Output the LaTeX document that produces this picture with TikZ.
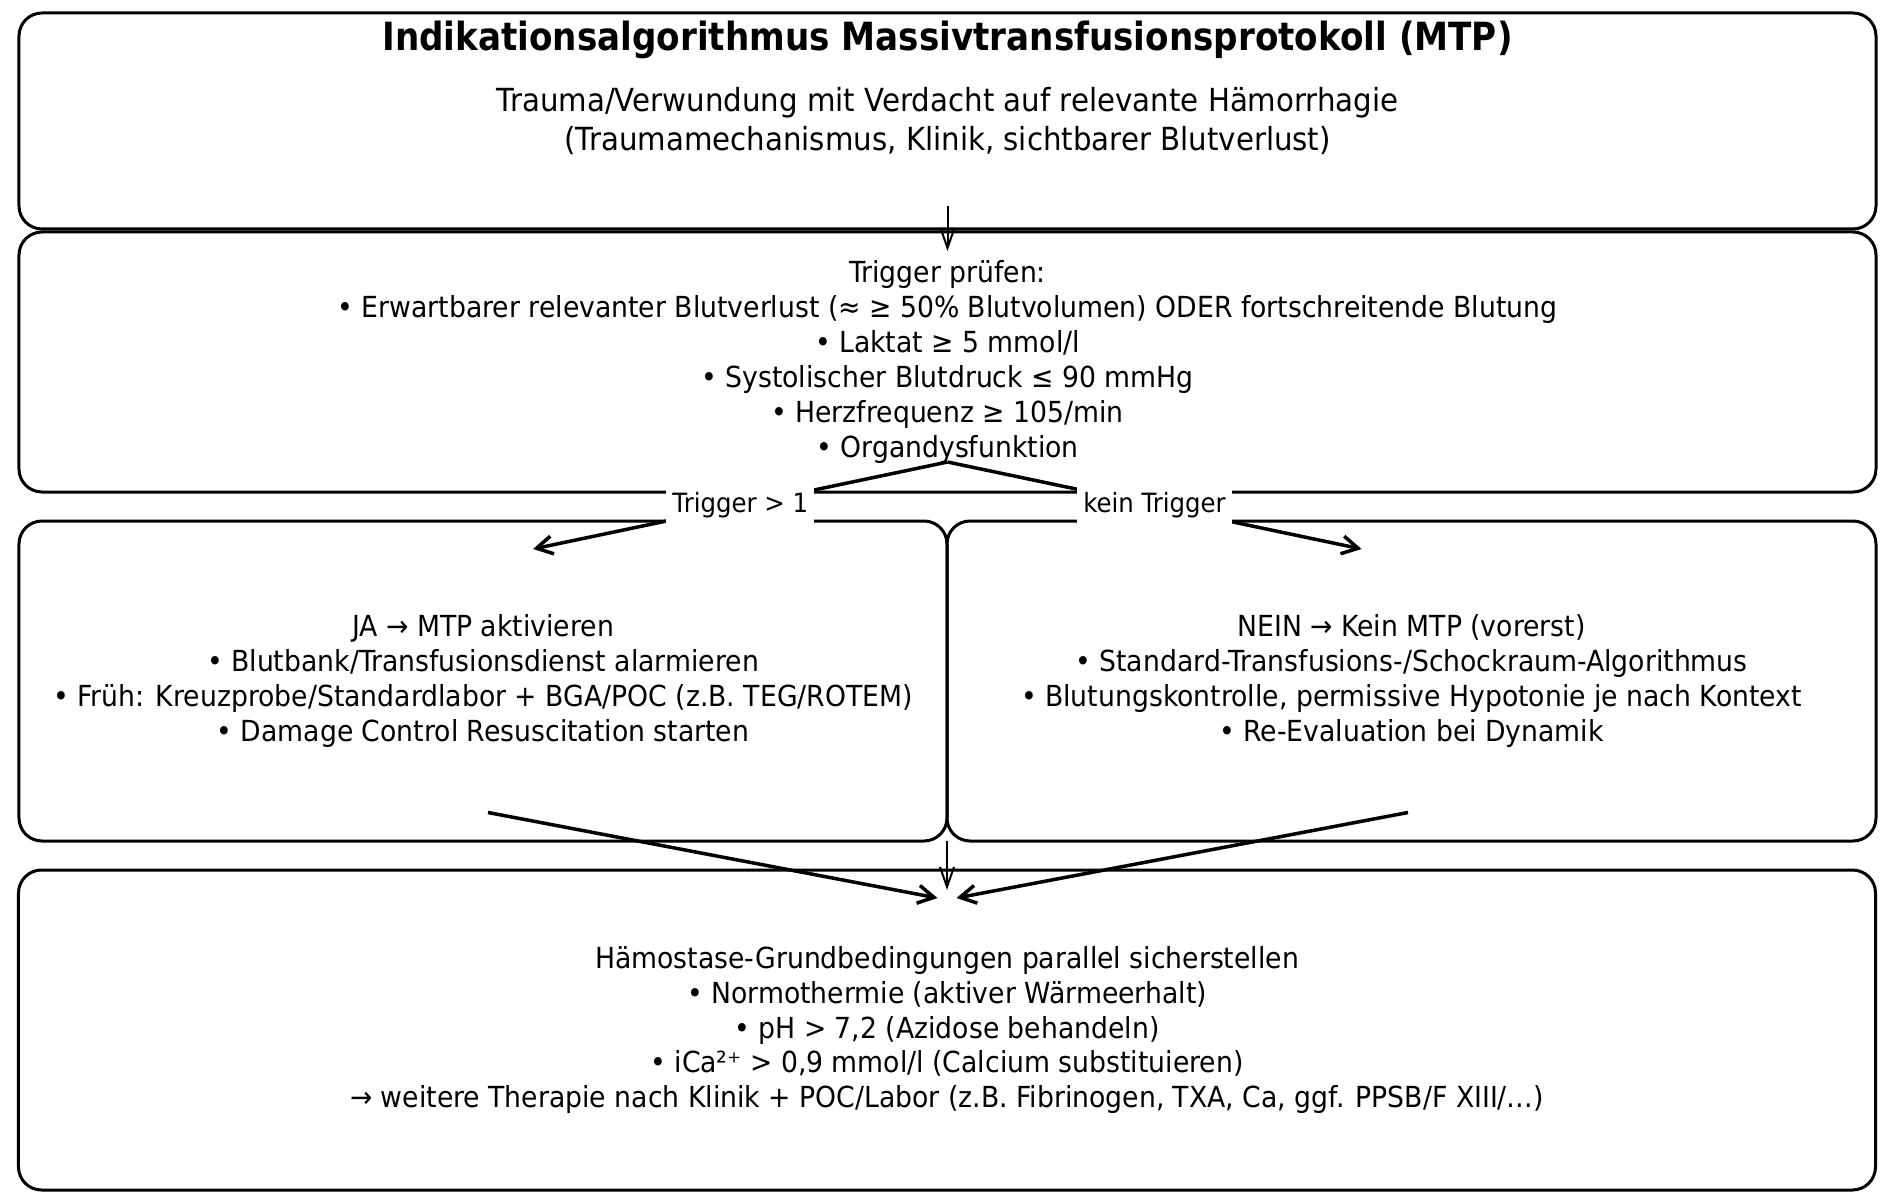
\documentclass[tikz,border=0pt]{standalone}
\usepackage{fontspec}
\setmainfont{DejaVu Sans}[FakeStretch=0.92]
\newfontfamily\headfont{DejaVu Sans}[FakeStretch=0.88]
\usepackage{tikz}
\usetikzlibrary{arrows.meta, positioning}
\newcommand{\mtpbody}{\fontsize{16.5}{19.9}\selectfont}

\begin{document}
\begin{tikzpicture}
    % Define styles
    \tikzstyle{block} = [rectangle, draw, rounded corners=0.46cm,
                          line width=0.06cm, align=center,
                          outer sep=0pt, inner sep=0pt, font=\mtpbody]
    \tikzstyle{arrow} = [line width=0.07cm, -{Straight Barb[length=0.32cm, width=0.36cm]}]
    \tikzstyle{thinarrow} = [line width=0.04cm, -{Straight Barb[length=0.4cm, width=0.28cm]}]
    \tikzstyle{branchlabel} = [fill=white, inner xsep=0.12cm, minimum height=0.76cm,
                               font=\fontsize{15.1}{18}\selectfont]
    \tikzstyle{headline} = [font=\headfont\fontsize{22.1}{26}\selectfont\bfseries]

    \useasboundingbox (0,0) rectangle (37.8,-24.02);

    % Create blocks
    \node[block, minimum width=37.14cm, minimum height=4.32cm,
          font=\fontsize{18.1}{21.9}\selectfont] (trauma) at (18.95,-2.42)
        {Trauma/Verwundung mit Verdacht auf relevante Hämorrhagie\\(Traumamechanismus, Klinik, sichtbarer Blutverlust)};
    \node[headline, anchor=base] (title) at ([yshift=-0.76cm]trauma.north)
        {Indikationsalgorithmus Massivtransfusionsprotokoll (MTP)};
    \node[block, minimum width=37.14cm, minimum height=5.2cm, below=0.06cm of trauma] (trigger)
        {Trigger prüfen:\\• Erwartbarer relevanter Blutverlust (≈ ≥ 50\% Blutvolumen) ODER fortschreitende Blutung\\• Laktat ≥ 5 mmol/l\\• Systolischer Blutdruck ≤ 90 mmHg\\• Herzfrequenz ≥ 105/min\\• Organdysfunktion};
    \node[block, minimum width=18.56cm, minimum height=6.4cm,
          below=0.58cm of trigger.south west, anchor=north west] (ja)
        {JA → MTP aktivieren\\• Blutbank/Transfusionsdienst alarmieren\\• Früh: Kreuzprobe/Standardlabor + BGA/POC (z.B. TEG/ROTEM)\\• Damage Control Resuscitation starten};
    \node[block, minimum width=18.58cm, minimum height=6.4cm, right=0cm of ja] (nein)
        {NEIN → Kein MTP (vorerst)\\• Standard-Transfusions-/Schockraum-Algorithmus\\• Blutungskontrolle, permissive Hypotonie je nach Kontext\\• Re-Evaluation bei Dynamik};
    \node[block, minimum width=37.14cm, minimum height=6.4cm, below=0.58cm of ja.south east] (haemo)
        {Hämostase-Grundbedingungen parallel sicherstellen\\• Normothermie (aktiver Wärmeerhalt)\\• pH > 7,2 (Azidose behandeln)\\• iCa²⁺ > 0,9 mmol/l (Calcium substituieren)\\→ weitere Therapie nach Klinik + POC/Labor (z.B. Fibrinogen, TXA, Ca, ggf. PPSB/F XIII/…)};

    % Draw arrows
    \draw[thinarrow] ([yshift=0.46cm]trauma.south) -- ([yshift=-0.38cm]trigger.north);
    \draw[arrow] ([yshift=0.6cm]trigger.south) -- node[branchlabel] {Trigger > 1} ([xshift=1cm, yshift=-0.56cm]ja.north);
    \draw[arrow] ([yshift=0.6cm]trigger.south) -- node[branchlabel] {kein Trigger} ([xshift=-1cm, yshift=-0.56cm]nein.north);
    \draw[thinarrow] (ja.south east) -- ([yshift=-0.4cm]haemo.north);
    \draw[arrow] ([xshift=0.1cm, yshift=0.57cm]ja.south) -- ([xshift=-0.19cm, yshift=-0.56cm]haemo.north);
    \draw[arrow] ([xshift=-0.07cm, yshift=0.57cm]nein.south) -- ([xshift=0.19cm, yshift=-0.56cm]haemo.north);
\end{tikzpicture}
\end{document}
